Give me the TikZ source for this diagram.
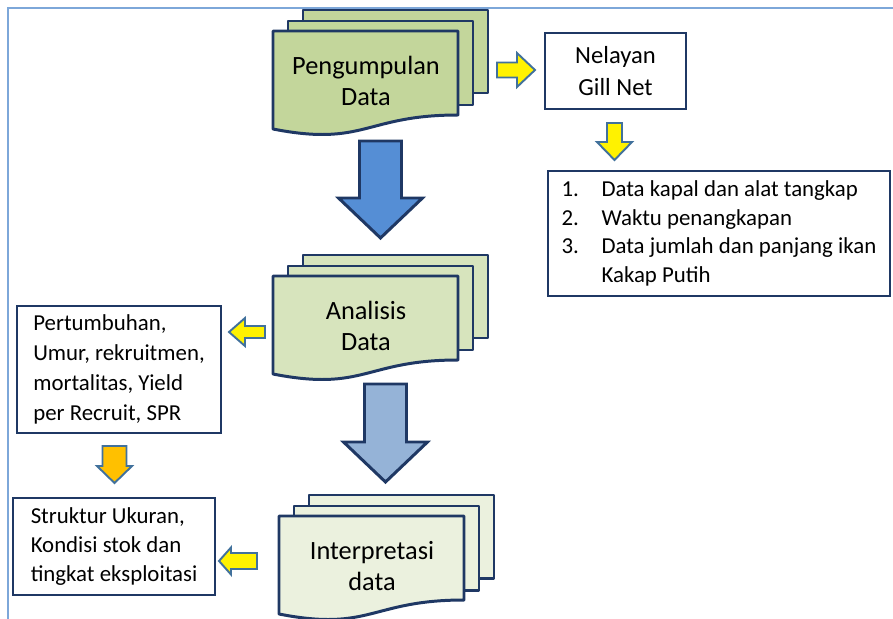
\documentclass[tikz,border=0pt]{standalone}
\usepackage{fontspec}
\setmainfont{Carlito}
\usetikzlibrary{positioning}

\definecolor{docline}{HTML}{1F3864}
\definecolor{arrline}{HTML}{41719C}
\definecolor{frameblue}{HTML}{7DA7D9}
\definecolor{docA}{HTML}{C3D69B}
\definecolor{docB}{HTML}{D7E4BD}
\definecolor{docC}{HTML}{EBF1DE}
\definecolor{arrA}{HTML}{558ED5}
\definecolor{arrB}{HTML}{95B3D7}
\definecolor{orangefill}{HTML}{FFC000}

\begin{document}
\begin{tikzpicture}[x=0.02cm,y=-0.02cm,
 page/.style={draw=docline,line width=1.7pt,line join=round},
 doc text/.style={align=center,font=\fontsize{15}{18}\selectfont},
 info box/.style={draw=docline,line width=0.9pt,fill=white,inner sep=0pt,
   font=\fontsize{13}{16.4}\selectfont},
 big arrow/.style={draw=docline,line width=1.7pt,line join=miter},
 small arrow/.style={draw=arrline,line width=1.1pt,line join=miter}]

  \useasboundingbox (0,0) rectangle (893,619);
  \draw[frameblue,line width=0.9pt] (893,8) -- (8,8) -- (8,619);

  % stacked documents
  \foreach \x/\y/\c/\n/\t in {273/31/docA/collect/{Pengumpulan\\Data},
      273/276/docB/analyse/{Analisis\\Data},
      279/516/docC/interpret/{Interpretasi\\data}} {
   \draw[page,fill=\c] (\x+30,\y-21) rectangle (\x+215,\y+62);
   \draw[page,fill=\c] (\x+15,\y-10) rectangle (\x+200,\y+74);
   \draw[page,fill=\c] (\x,\y) -- (\x+185,\y) -- (\x+185,\y+84)
     .. controls (\x+92,\y+84) and (\x+92,\y+116) .. (\x,\y+98) -- cycle;
   \node[doc text] (\n) at (\x+93,\y+50) {\t};}

  % text boxes
  \node[info box,minimum width=2.82cm,minimum height=1.52cm,align=center,
    font=\fontsize{14}{18}\selectfont] (net) at (615.5,71) {Nelayan\\Gill Net};
  \node[info box,minimum width=6.84cm,minimum height=2.5cm,align=left] (items) at (719,233.5)
    {\makebox[0.8cm][l]{1.}Data kapal dan alat tangkap\\
     \makebox[0.8cm][l]{2.}Waktu penangkapan\\
     \makebox[0.8cm][l]{3.}Data jumlah dan panjang ikan\\
     \hspace*{0.8cm}Kakap Putih};
  \node[info box,minimum width=4.08cm,minimum height=2.54cm,align=left,
    font=\fontsize{13}{17}\selectfont] (growth) at (119,369.5)
    {Pertumbuhan,\\Umur, rekruitmen,\\mortalitas, Yield\\per Recruit, SPR};
  \node[info box,minimum width=4.04cm,minimum height=1.94cm,align=left] (stock) at (114,546.5)
    {Struktur Ukuran,\\Kondisi stok dan\\tingkat eksploitasi};

  % block arrows
  \foreach \cx/\t/\h/\b/\c in {380.5/141/198/238/arrA, 385.5/384/442/482/arrB} {
   \draw[big arrow,fill=\c] (\cx-21,\t) -- (\cx+21,\t) -- (\cx+21,\h) -- (\cx+42,\h)
     -- (\cx,\b) -- (\cx-42,\h) -- (\cx-21,\h) -- cycle;}
  \foreach \cx/\t/\h/\b/\s/\w/\c in {614.5/123/142/160/7.5/17.5/yellow,
      114.5/446/466/483/12/17.5/orangefill} {
   \draw[small arrow,fill=\c] (\cx-\s,\t) -- (\cx+\s,\t) -- (\cx+\s,\h) -- (\cx+\w,\h)
     -- (\cx,\b) -- (\cx-\w,\h) -- (\cx-\s,\h) -- cycle;}
  \draw[small arrow,fill=yellow] (497,62.5) -- (517,62.5) -- (517,53) -- (535,70)
     -- (517,87) -- (517,77.5) -- (497,77.5) -- cycle;
  \draw[small arrow,fill=yellow] (265,326) -- (245,326) -- (245,318) -- (229,332)
     -- (245,346) -- (245,338) -- (265,338) -- cycle;
  \draw[small arrow,fill=yellow] (257,553) -- (231,553) -- (231,547.5) -- (219,561)
     -- (231,574.5) -- (231,569) -- (257,569) -- cycle;

\end{tikzpicture}
\end{document}
